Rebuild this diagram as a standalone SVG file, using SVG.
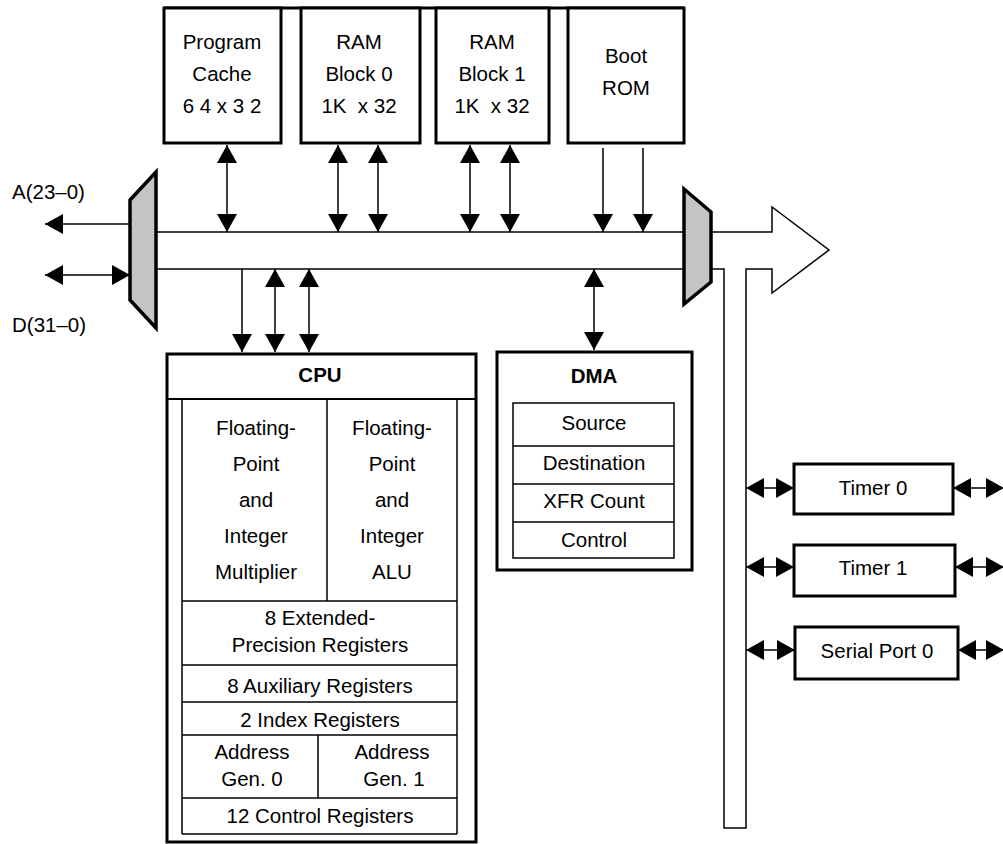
<svg xmlns="http://www.w3.org/2000/svg" width="1003" height="844" viewBox="0 0 1003 844">
<style>
text{font-family:"Liberation Sans",Arial,sans-serif;font-size:20.5px;fill:#000;text-anchor:middle;white-space:pre}
.b{font-weight:bold}
.l{text-anchor:start}
.box{fill:#fff;stroke:#000;stroke-width:3}
.thin{fill:none;stroke:#000;stroke-width:1.5}
.mux{fill:#c4c4c4;stroke:#000;stroke-width:3.5;stroke-linejoin:miter}
.c{fill:none;stroke:#000;stroke-width:1.5}
.bi{marker-start:url(#ah);marker-end:url(#ah)}
.one{marker-end:url(#ah)}
</style>
<defs>
<marker id="ah" markerUnits="userSpaceOnUse" markerWidth="18" markerHeight="20" viewBox="0 0 18 20" refX="18" refY="10" orient="auto-start-reverse"><path d="M0,0 L18,10 L0,20 z" fill="#000"/></marker>
</defs>
<rect width="1003" height="844" fill="#fff"/>

<g id="bus">
<line class="thin" x1="156" y1="232" x2="684" y2="232"/>
<line class="thin" x1="156" y1="269" x2="684" y2="269"/>
<path class="thin" d="M711,232 H772 V207 L829,250 L772,293 V269 H746 V828 H724 V269 H711" fill="#fff"/>
</g>

<g id="top-line"><line x1="164" y1="8" x2="684" y2="8" stroke="#000" stroke-width="3"/></g>

<g id="program-cache">
<rect class="box" x="164" y="8" width="117" height="135"/>
<text x="222" y="49">Program</text>
<text x="222" y="81">Cache</text>
<text x="222" y="113">6 4 x 3 2</text>
</g>
<g id="ram0">
<rect class="box" x="301" y="8" width="119" height="135"/>
<text x="359" y="49">RAM</text>
<text x="359" y="81">Block 0</text>
<text x="359" y="113">1K  x 32</text>
</g>
<g id="ram1">
<rect class="box" x="436" y="8" width="113" height="135"/>
<text x="492" y="49">RAM</text>
<text x="492" y="81">Block 1</text>
<text x="492" y="113">1K  x 32</text>
</g>
<g id="boot-rom">
<rect class="box" x="568" y="8" width="116" height="135"/>
<text x="626" y="63">Boot</text>
<text x="626" y="95">ROM</text>
</g>

<g id="mux-left"><polygon class="mux" points="130,200 156,172 156,328 130,300"/></g>
<g id="mux-right"><polygon class="mux" points="684,189 711,212 711,282 684,304"/></g>

<g id="labels">
<text class="l" x="12" y="199">A(23–0)</text>
<text class="l" x="12" y="332">D(31–0)</text>
</g>

<g id="cpu">
<rect class="box" x="167" y="354" width="309" height="488"/>
<line x1="167" y1="399" x2="476" y2="399" stroke="#000" stroke-width="2"/>
<text class="b" x="320" y="382">CPU</text>
<line class="thin" x1="182" y1="399" x2="182" y2="834"/>
<line class="thin" x1="457" y1="399" x2="457" y2="834"/>
<line class="thin" x1="182" y1="834" x2="457" y2="834"/>
<line class="thin" x1="327" y1="399" x2="327" y2="601"/>
<line class="thin" x1="182" y1="601" x2="457" y2="601"/>
<line class="thin" x1="182" y1="665" x2="457" y2="665"/>
<line class="thin" x1="182" y1="702" x2="457" y2="702"/>
<line class="thin" x1="182" y1="735" x2="457" y2="735"/>
<line class="thin" x1="318" y1="735" x2="318" y2="798"/>
<line class="thin" x1="182" y1="798" x2="457" y2="798"/>
<text x="256" y="435">Floating-</text>
<text x="256" y="471">Point</text>
<text x="256" y="507">and</text>
<text x="256" y="543">Integer</text>
<text x="256" y="579">Multiplier</text>
<text x="392" y="435">Floating-</text>
<text x="392" y="471">Point</text>
<text x="392" y="507">and</text>
<text x="392" y="543">Integer</text>
<text x="392" y="579">ALU</text>
<text x="320" y="625">8 Extended-</text>
<text x="320" y="652">Precision Registers</text>
<text x="320" y="693">8 Auxiliary Registers</text>
<text x="320" y="727">2 Index Registers</text>
<text x="252" y="759">Address</text>
<text x="252" y="786">Gen. 0</text>
<text x="392" y="759">Address</text>
<text x="394" y="786">Gen. 1</text>
<text x="320" y="823">12 Control Registers</text>
</g>

<g id="dma">
<rect class="box" x="497" y="352" width="195" height="218"/>
<text class="b" x="594" y="383">DMA</text>
<rect class="thin" x="513" y="403" width="161" height="155"/>
<line class="thin" x1="513" y1="446" x2="674" y2="446"/>
<line class="thin" x1="513" y1="484" x2="674" y2="484"/>
<line class="thin" x1="513" y1="522" x2="674" y2="522"/>
<text x="594" y="430">Source</text>
<text x="594" y="470">Destination</text>
<text x="594" y="508">XFR Count</text>
<text x="594" y="547">Control</text>
</g>

<g id="timer0">
<rect class="box" x="794" y="464" width="159" height="50"/>
<text x="873" y="495">Timer 0</text>
</g>
<g id="timer1">
<rect class="box" x="794" y="545" width="161" height="51"/>
<text x="873" y="575">Timer 1</text>
</g>
<g id="serial0">
<rect class="box" x="795" y="627" width="163" height="52"/>
<text x="877" y="658">Serial Port 0</text>
</g>

<g id="connectors">
<line class="c one" x1="130" y1="224" x2="45" y2="224"/>
<line class="c bi" x1="45" y1="275" x2="130" y2="275"/>
<line class="c bi" x1="227" y1="145" x2="227" y2="232"/>
<line class="c bi" x1="338" y1="145" x2="338" y2="232"/>
<line class="c bi" x1="378" y1="145" x2="378" y2="232"/>
<line class="c bi" x1="470" y1="145" x2="470" y2="232"/>
<line class="c bi" x1="510" y1="145" x2="510" y2="232"/>
<line class="c one" x1="603" y1="148" x2="603" y2="232"/>
<line class="c one" x1="643" y1="148" x2="643" y2="232"/>
<line class="c one" x1="242" y1="269" x2="242" y2="352"/>
<line class="c bi" x1="275" y1="269" x2="275" y2="352"/>
<line class="c bi" x1="309" y1="269" x2="309" y2="352"/>
<line class="c bi" x1="594" y1="269" x2="594" y2="350"/>
<line class="c bi" x1="746" y1="488" x2="794" y2="488"/>
<line class="c bi" x1="746" y1="567" x2="794" y2="567"/>
<line class="c bi" x1="746" y1="650" x2="795" y2="650"/>
<line class="c bi" x1="953" y1="488" x2="1004" y2="488"/>
<line class="c bi" x1="955" y1="567" x2="1004" y2="567"/>
<line class="c bi" x1="958" y1="650" x2="1004" y2="650"/>
</g>
</svg>
